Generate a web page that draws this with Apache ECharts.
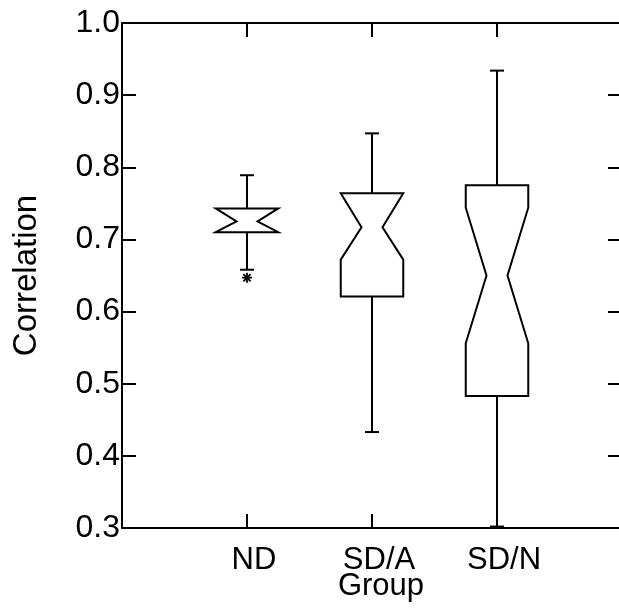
<!DOCTYPE html>
<html><head><meta charset="utf-8">
<script src="https://cdn.jsdelivr.net/npm/echarts@6/dist/echarts.min.js"></script>
<style>html,body{margin:0;padding:0;background:#fff}#c{width:619px;height:608px}</style>
</head><body><div id="c"></div>
<script>
// ---- data ----
const categories = ['ND', 'SD/A', 'SD/N'];
const whiskerLow  = [0.658, 0.433, 0.302];
const q1          = [0.710, 0.621, 0.483];
const median      = [0.725, 0.717, 0.650];
const q3          = [0.743, 0.764, 0.775];
const whiskerHigh = [0.789, 0.847, 0.934];
const notchLow    = [0.710, 0.672, 0.556];
const notchHigh   = [0.743, 0.764, 0.744];
const outlierGroup = [1];
const outlierValue = [0.647];
const yTicks = [0.3, 0.4, 0.5, 0.6, 0.7, 0.8, 0.9, 1.0];

// ---- style constants ----
const BW = 0.25, NW = 0.084, CW = 0.056;
const FONT = "'Liberation Sans', Arial, Helvetica, sans-serif";

const boxData = categories.map((c, i) => [i + 1, whiskerLow[i], q1[i], median[i], q3[i], whiskerHigh[i], notchLow[i], notchHigh[i]]);
const outData = outlierGroup.map((g, i) => [g, outlierValue[i]]);

const lineStyle = { stroke: '#000', lineWidth: 2 };
const axisLine = { show: true, onZero: false, lineStyle: { color: '#000', width: 2 } };
const axisTick = { show: true, inside: true, length: 14, lineStyle: { color: '#000', width: 2 } };

const chart = echarts.init(document.getElementById('c'), null, { renderer: 'canvas' });
chart.setOption({
  backgroundColor: '#fff',
  animation: false,
  grid: { left: 122, top: 23, width: 500, height: 505, containLabel: false, outerBoundsMode: 'none' },
  xAxis: [{
    type: 'value', min: 0, max: 4, interval: 1, position: 'bottom',
    axisLine: axisLine, axisTick: axisTick, splitLine: { show: false },
    axisLabel: {
      show: true, margin: 17, color: '#000', fontSize: 31, fontFamily: FONT, padding: [0, 0, 0, 14],
      formatter: v => (v >= 1 && v <= categories.length && Number.isInteger(v)) ? categories[v - 1] : ''
    },
    name: 'Group', nameLocation: 'middle', nameGap: 43, nameMoveOverlap: false,
    nameTextStyle: { color: '#000', fontSize: 31, fontFamily: FONT, padding: [0, 0, 0, 18] }
  }, {
    type: 'value', min: 0, max: 4, interval: 1, position: 'top',
    axisLine: axisLine, axisTick: axisTick, splitLine: { show: false }, axisLabel: { show: false }
  }],
  yAxis: [{
    type: 'value', min: yTicks[0], max: yTicks[yTicks.length - 1], interval: 0.1, position: 'left',
    axisLine: axisLine, axisTick: axisTick, splitLine: { show: false },
    axisLabel: { show: true, margin: 2, color: '#000', fontSize: 32, fontFamily: FONT, padding: [9, 0, 0, 0],
      formatter: v => v.toFixed(1) },
    name: 'Correlation', nameLocation: 'middle', nameGap: 79, nameMoveOverlap: false,
    nameTextStyle: { color: '#000', fontSize: 33, fontFamily: FONT }
  }, {
    type: 'value', min: yTicks[0], max: yTicks[yTicks.length - 1], interval: 0.1, position: 'right',
    axisLine: axisLine, axisTick: axisTick, splitLine: { show: false }, axisLabel: { show: false }
  }],
  series: [{
    type: 'custom', xAxisIndex: 0, yAxisIndex: 0,
    data: boxData,
    renderItem: function (params, api) {
      const x = api.value(0);
      const wl = api.value(1), a = api.value(2), md = api.value(3), b = api.value(4),
            wh = api.value(5), nl = api.value(6), nh = api.value(7);
      const P = (dx, y) => api.coord([x + dx, y]);
      const pts = [P(-BW, a), P(-BW, nl), P(-NW, md), P(-BW, nh), P(-BW, b),
                   P(BW, b), P(BW, nh), P(NW, md), P(BW, nl), P(BW, a)];
      const ln = (p1, p2) => ({ type: 'line', shape: { x1: p1[0], y1: p1[1], x2: p2[0], y2: p2[1] }, style: lineStyle });
      return {
        type: 'group',
        children: [
          { type: 'polygon', shape: { points: pts }, style: { fill: 'none', stroke: '#000', lineWidth: 2 } },
          ln(P(0, b), P(0, wh)),
          ln(P(0, a), P(0, wl)),
          ln(P(-CW, wh), P(CW, wh)),
          ln(P(-CW, wl), P(CW, wl))
        ]
      };
    }
  }, {
    type: 'custom', xAxisIndex: 0, yAxisIndex: 0,
    data: outData,
    renderItem: function (params, api) {
      const p = api.coord([api.value(0), api.value(1)]);
      const s = 5, d = 3.6;
      const st = { stroke: '#000', lineWidth: 1.8 };
      return {
        type: 'group',
        children: [
          { type: 'line', shape: { x1: p[0], y1: p[1] - s, x2: p[0], y2: p[1] + s }, style: st },
          { type: 'line', shape: { x1: p[0] - s, y1: p[1], x2: p[0] + s, y2: p[1] }, style: st },
          { type: 'line', shape: { x1: p[0] - d, y1: p[1] - d, x2: p[0] + d, y2: p[1] + d }, style: st },
          { type: 'line', shape: { x1: p[0] - d, y1: p[1] + d, x2: p[0] + d, y2: p[1] - d }, style: st }
        ]
      };
    }
  }]
});
</script>
</body></html>
